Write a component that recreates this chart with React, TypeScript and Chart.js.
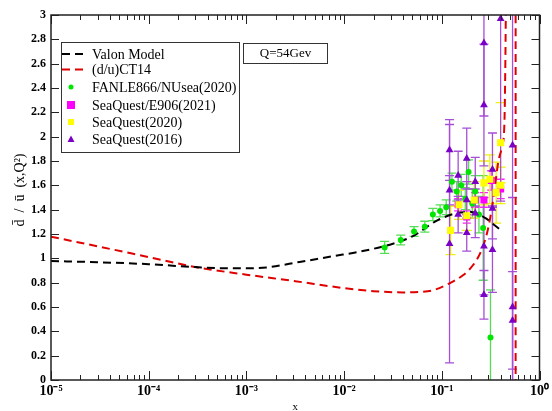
import React, { useEffect, useRef } from "react";
import { Chart, registerables } from "chart.js";

Chart.register(...registerables);

const SERIF = '"Liberation Serif", "Times New Roman", serif';

// Axis ticks
const X_DECADES = [1e-5, 1e-4, 1e-3, 1e-2, 1e-1, 1];
const X_TICK_LABELS = ["10\u207B\u2075", "10\u207B\u2074", "10\u207B\u00B3", "10\u207B\u00B2", "10\u207B\u00B9", "10\u2070"];
const Y_MIN = 0;
const Y_MAX = 3;
const Y_STEP = 0.2;
const Y_TITLE = "d\u0304  /  \u016B  (x,Q\u00B2)";
const X_TITLE = "x";

// Valon model curve
const VALON_X = [1e-5, 3e-5, 1e-4, 3e-4, 6e-4, 1e-3, 1.6e-3, 3.5e-3, 8e-3, 0.0135, 0.0316, 0.05, 0.089, 0.14, 0.2, 0.28, 0.35, 0.42];
const VALON_Y = [0.978, 0.968, 0.952, 0.928, 0.918, 0.918, 0.925, 0.97, 1.02, 1.05, 1.12, 1.18, 1.31, 1.37, 1.38, 1.33, 1.27, 1.22];

// CT14 curve
const CT14_X = [1e-5, 3.16e-5, 1e-4, 3.16e-4, 1e-3, 3.16e-3, 0.01, 0.02, 0.04, 0.063, 0.083, 0.12, 0.166, 0.209, 0.251, 0.295, 0.331, 0.355, 0.38, 0.417, 0.437, 0.447, 0.457, 0.479, 0.55, 0.569, 0.5702];
const CT14_Y = [1.178, 1.095, 1.01, 0.925, 0.866, 0.812, 0.755, 0.73, 0.72, 0.725, 0.74, 0.795, 0.863, 0.945, 1.054, 1.23, 1.45, 1.63, 1.8, 1.93, 2.1, 2.6, 3.5, 6, 30, 60, -60];

// FNAL E866 / NuSea (2020)
const E866_X = [0.026, 0.038, 0.052, 0.067, 0.081, 0.096, 0.111, 0.127, 0.142, 0.158, 0.174, 0.188, 0.205, 0.22, 0.24, 0.265, 0.315];
const E866_Y = [1.09, 1.15, 1.22, 1.26, 1.36, 1.39, 1.42, 1.63, 1.55, 1.6, 1.49, 1.71, 1.45, 1.55, 1.36, 1.25, 0.35];
const E866_ERR = [0.05, 0.04, 0.04, 0.045, 0.05, 0.05, 0.06, 0.07, 0.08, 0.09, 0.09, 0.1, 0.12, 0.13, 0.15, 0.43, 0.39];

// SeaQuest/E906 (2021)
const SQ21_X = [0.147, 0.18, 0.22, 0.27, 0.32, 0.4];
const SQ21_Y = [1.44, 1.34, 1.48, 1.48, 1.64, 1.57];
const SQ21_ERR = [0.05, 0.05, 0.06, 0.06, 0.08, 0.08];

// SeaQuest (2020)
const SQ20_X = [0.123, 0.15, 0.18, 0.215, 0.27, 0.31, 0.36, 0.4, 0.4];
const SQ20_Y = [1.23, 1.44, 1.35, 1.48, 1.62, 1.65, 1.54, 1.95, 1.6];
const SQ20_ERR = [0.2, 0.12, 0.12, 0.15, 0.18, 0.2, 0.25, 0.33, 0.15];

// SeaQuest (2016)
const SQ16_X = [0.12, 0.12, 0.12, 0.147, 0.147, 0.18, 0.18, 0.18, 0.22, 0.22, 0.27, 0.27, 0.27, 0.27, 0.33, 0.33, 0.33, 0.4, 0.53, 0.53, 0.53];
const SQ16_Y = [1.12, 1.89, 1.56, 1.68, 1.36, 1.82, 1.48, 1.21, 1.63, 1.37, 2.77, 2.26, 1.1, 0.7, 1.73, 1.41, 1.07, 2.97, 1.93, 0.6, 0.49];
const SQ16_ERR = [0.98, 0.25, 0.12, 0.2, 0.15, 0.25, 0.15, 0.15, 0.2, 0.2, 0.6, 0.5, 0.4, 0.2, 0.3, 0.25, 0.35, 1.5, 2.5, 0.9, 0.4];

const pts = (xs: number[], ys: number[]) => xs.map((x, i) => ({ x, y: ys[i] }));

const errorBarPlugin = {
  id: "errorBars",
  beforeDatasetsDraw(chart: any) {
    const { ctx, chartArea, scales } = chart;
    const xs = scales.x;
    const ys = scales.y;
    ctx.save();
    ctx.beginPath();
    ctx.rect(chartArea.left, chartArea.top, chartArea.width, chartArea.height);
    ctx.clip();
    const dsList = chart.data.datasets.filter((d: any) => d.errors);
    dsList.sort((a: any, b: any) => b.errOrder - a.errOrder);
    dsList.forEach((d: any) => {
      ctx.strokeStyle = d.errorColor;
      ctx.lineWidth = 1.3;
      const cap = d.capHalf;
      d.data.forEach((p: any, j: number) => {
        const e = d.errors[j];
        const px = xs.getPixelForValue(p.x);
        const y1 = ys.getPixelForValue(p.y - e);
        const y2 = ys.getPixelForValue(p.y + e);
        ctx.beginPath();
        ctx.moveTo(px, y1);
        ctx.lineTo(px, y2);
        ctx.moveTo(px - cap, y1);
        ctx.lineTo(px + cap, y1);
        ctx.moveTo(px - cap, y2);
        ctx.lineTo(px + cap, y2);
        ctx.stroke();
      });
    });
    ctx.restore();
  },
};

const framePlugin = {
  id: "frame",
  afterDraw(chart: any) {
    const { ctx, chartArea, scales } = chart;
    const { left, right, top, bottom } = chartArea;
    const xs = scales.x;
    const ys = scales.y;
    ctx.save();
    ctx.strokeStyle = "#222";
    ctx.lineWidth = 1;
    for (let k = 0; k < X_DECADES.length; k++) {
      const dec = X_DECADES[k];
      for (let m = 1; m <= 9; m++) {
        const v = dec * m;
        if (v > 1.0000001) continue;
        const px = Math.round(xs.getPixelForValue(v)) + 0.5;
        const len = m === 1 ? 9 : 5;
        ctx.beginPath();
        ctx.moveTo(px, bottom);
        ctx.lineTo(px, bottom - len);
        ctx.moveTo(px, top);
        ctx.lineTo(px, top + len);
        ctx.stroke();
      }
    }
    for (let v = Y_MIN; v <= Y_MAX + 1e-9; v += Y_STEP) {
      const py = Math.round(ys.getPixelForValue(v)) + 0.5;
      ctx.beginPath();
      ctx.moveTo(left, py);
      ctx.lineTo(left + 8, py);
      ctx.moveTo(right, py);
      ctx.lineTo(right - 8, py);
      ctx.stroke();
    }
    ctx.lineWidth = 1.5;
    ctx.strokeRect(left, top, right - left, bottom - top);

    // Y axis title
    ctx.save();
    ctx.translate(20, 190);
    ctx.rotate(-Math.PI / 2);
    ctx.fillStyle = "#000";
    ctx.font = `14px ${SERIF}`;
    ctx.textAlign = "center";
    ctx.textBaseline = "middle";
    ctx.fillText(Y_TITLE, 0, 0);
    ctx.restore();

    // Legend box
    const bx = 61, by = 42, bw = 178, bh = 110;
    ctx.fillStyle = "#fff";
    ctx.fillRect(bx, by, bw, bh);
    ctx.lineWidth = 1;
    ctx.strokeStyle = "#333";
    ctx.strokeRect(bx + 0.5, by + 0.5, bw, bh);
    const rows = [54, 69.5, 87, 105, 122, 139.5];
    const texts = ["Valon Model", "(d/u)CT14", "FANLE866/NUsea(2020)", "SeaQuest/E906(2021)", "SeaQuest(2020)", "SeaQuest(2016)"];
    const mx = 71;
    ctx.lineWidth = 2;
    ctx.setLineDash([8, 5]);
    ctx.strokeStyle = "#000";
    ctx.beginPath();
    ctx.moveTo(62, rows[0]);
    ctx.lineTo(84, rows[0]);
    ctx.stroke();
    ctx.strokeStyle = "#e00000";
    ctx.beginPath();
    ctx.moveTo(62, rows[1]);
    ctx.lineTo(84, rows[1]);
    ctx.stroke();
    ctx.setLineDash([]);
    ctx.fillStyle = "#00e600";
    ctx.beginPath();
    ctx.arc(mx, rows[2], 2.5, 0, Math.PI * 2);
    ctx.fill();
    ctx.fillStyle = "#ff00ff";
    ctx.fillRect(mx - 4, rows[3] - 4, 8, 8);
    ctx.fillStyle = "#ffff00";
    ctx.fillRect(mx - 3, rows[4] - 3, 6, 6);
    ctx.fillStyle = "#7a00c8";
    ctx.beginPath();
    ctx.moveTo(mx, rows[5] - 4);
    ctx.lineTo(mx + 3.5, rows[5] + 2.5);
    ctx.lineTo(mx - 3.5, rows[5] + 2.5);
    ctx.closePath();
    ctx.fill();
    ctx.fillStyle = "#000";
    ctx.font = `14px ${SERIF}`;
    ctx.textBaseline = "middle";
    ctx.textAlign = "left";
    texts.forEach((t, i) => ctx.fillText(t, 92, rows[i] + 1));

    // Q box
    ctx.lineWidth = 1;
    ctx.strokeStyle = "#333";
    ctx.fillStyle = "#fff";
    ctx.fillRect(243, 43, 84, 20);
    ctx.strokeRect(243.5, 43.5, 84, 20);
    ctx.fillStyle = "#000";
    ctx.font = `13px ${SERIF}`;
    ctx.textAlign = "center";
    ctx.fillText("Q=54Gev", 285.5, 54);
    ctx.restore();
  },
};

export default function App() {
  const ref = useRef<HTMLCanvasElement | null>(null);
  useEffect(() => {
    if (!ref.current) return;
    const chart = new Chart(ref.current, {
      type: "line",
      data: {
        datasets: [
          {
            label: "SeaQuest(2016)",
            type: "scatter",
            data: pts(SQ16_X, SQ16_Y),
            errors: SQ16_ERR,
            errorColor: "#a64fd6",
            capHalf: 4.5,
            errOrder: 1,
            pointStyle: "triangle",
            pointRadius: 4.5,
            backgroundColor: "#7a00c8",
            borderColor: "#7a00c8",
            borderWidth: 0,
          } as any,
          {
            label: "SeaQuest(2020)",
            type: "scatter",
            data: pts(SQ20_X, SQ20_Y),
            errors: SQ20_ERR,
            errorColor: "#eeee10",
            capHalf: 5,
            errOrder: 2,
            pointStyle: "rect",
            pointRadius: 5,
            backgroundColor: "#ffff00",
            borderColor: "#ffff00",
            borderWidth: 0,
          } as any,
          {
            label: "SeaQuest/E906(2021)",
            type: "scatter",
            data: pts(SQ21_X, SQ21_Y),
            errors: SQ21_ERR,
            errorColor: "#ff20ff",
            capHalf: 4,
            errOrder: 3,
            pointStyle: "rect",
            pointRadius: 5,
            backgroundColor: "#ff00ff",
            borderColor: "#ff00ff",
            borderWidth: 0,
          } as any,
          {
            label: "FANLE866/NUsea(2020)",
            type: "scatter",
            data: pts(E866_X, E866_Y),
            errors: E866_ERR,
            errorColor: "#55dd55",
            capHalf: 4.5,
            errOrder: 4,
            pointStyle: "circle",
            pointRadius: 3,
            backgroundColor: "#00e600",
            borderColor: "#00e600",
            borderWidth: 0,
          } as any,
          {
            label: "Valon Model",
            data: pts(VALON_X, VALON_Y),
            borderColor: "#000",
            borderWidth: 2,
            borderDash: [8, 5],
            pointRadius: 0,
            fill: false,
            cubicInterpolationMode: "monotone",
          },
          {
            label: "(d/u)CT14",
            data: pts(CT14_X, CT14_Y),
            borderColor: "#e00000",
            borderWidth: 2,
            borderDash: [8, 5],
            pointRadius: 0,
            fill: false,
            cubicInterpolationMode: "monotone",
          },
        ],
      },
      options: {
        animation: false,
        responsive: false,
        maintainAspectRatio: false,
        layout: { padding: { top: 15, right: 11, left: 0, bottom: 0 } },
        plugins: { legend: { display: false }, tooltip: { enabled: false } },
        scales: {
          x: {
            type: "logarithmic",
            min: 1e-5,
            max: 1,
            afterBuildTicks: (s: any) => {
              s.ticks = X_DECADES.map((v) => ({ value: v }));
            },
            afterFit: (s: any) => {
              s.height = 31;
            },
            grid: { display: false, drawTicks: false },
            border: { display: false },
            ticks: {
              callback: (_v: any, i: number) => X_TICK_LABELS[i],
              font: { family: SERIF, size: 14, weight: "bold" },
              color: "#000",
              padding: 3,
              maxRotation: 0,
              autoSkip: false,
            },
            title: {
              display: true,
              text: X_TITLE,
              font: { family: SERIF, size: 11 },
              color: "#000",
              padding: { top: 0, bottom: -3 },
            },
          },
          y: {
            type: "linear",
            min: Y_MIN,
            max: Y_MAX,
            afterFit: (s: any) => {
              s.width = 51;
            },
            grid: { display: false, drawTicks: false },
            border: { display: false },
            ticks: {
              stepSize: Y_STEP,
              callback: (v: any) => String(Math.round(Number(v) * 10) / 10),
              font: { family: SERIF, size: 12, weight: "bold" },
              color: "#000",
              padding: 5,
            },
          },
        },
      },
      plugins: [errorBarPlugin, framePlugin],
    } as any);
    return () => chart.destroy();
  }, []);
  return (
    <div style={{ position: "fixed", left: 0, top: 0, width: 552, height: 411, background: "#fff" }}>
      <canvas ref={ref} width={552} height={411} style={{ display: "block" }} />
    </div>
  );
}
